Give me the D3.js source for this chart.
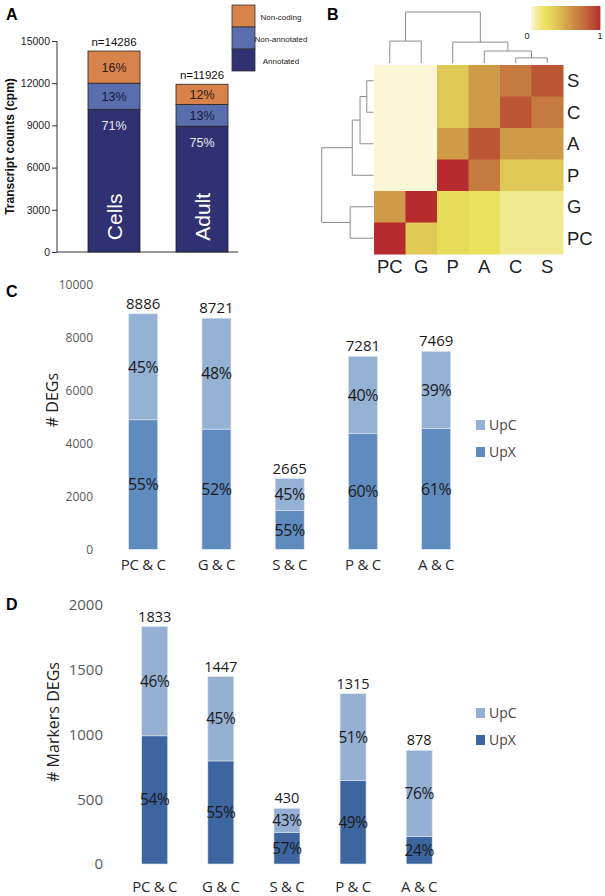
<!DOCTYPE html>
<html>
<head>
<meta charset="utf-8">
<script src="https://cdn.jsdelivr.net/npm/d3@7"></script>
<style>
  html, body { margin: 0; padding: 0; background: #fff; }
  svg { display: block; }
</style>
</head>
<body>
<script>
// ---------- Panel A data ----------
const catA = ["Cells", "Adult"];
const totalsA = [14286, 11926];
const pctAnnotated = [71, 75];
const pctNonAnnotated = [13, 13];
const pctNonCoding = [16, 12];
const ticksA = [0, 3000, 6000, 9000, 12000, 15000];
const legendA = ["Non-coding", "Non-annotated", "Annotated"];

// ---------- Panel B data ----------
const hmCols = ["PC", "G", "P", "A", "C", "S"];
const hmRows = ["S", "C", "A", "P", "G", "PC"];
const hmValues = [
  [0, 0, 0.35, 0.55, 0.70, 0.85],
  [0, 0, 0.35, 0.55, 0.85, 0.70],
  [0, 0, 0.55, 0.85, 0.55, 0.55],
  [0, 0, 1.00, 0.70, 0.35, 0.35],
  [0.55, 1.00, 0.25, 0.20, 0.10, 0.10],
  [1.00, 0.35, 0.25, 0.20, 0.10, 0.10]
];
const colTree = {h: 1, children: [
  {h: 0.43, children: [{name: "PC"}, {name: "G"}]},
  {h: 0.41, children: [{name: "P"}, {h: 0.235, children: [{name: "A"}, {h: 0.10, children: [{name: "C"}, {name: "S"}]}]}]}
]};
const rowTree = {h: 1, children: [
  {h: 0.41, children: [{h: 0.26, children: [{h: 0.13, children: [{name: "S"}, {name: "C"}]}, {name: "A"}]}, {name: "P"}]},
  {h: 0.45, children: [{name: "G"}, {name: "PC"}]}
]};

// ---------- Panel C data ----------
const catC = ["PC & C", "G & C", "S & C", "P & C", "A & C"];
const totalsC = [8886, 8721, 2665, 7281, 7469];
const pctUpXC = [55, 52, 55, 60, 61];
const pctUpCC = [45, 48, 45, 40, 39];
const ticksC = [0, 2000, 4000, 6000, 8000, 10000];

// ---------- Panel D data ----------
const catD = ["PC & C", "G & C", "S & C", "P & C", "A & C"];
const totalsD = [1833, 1447, 430, 1315, 878];
const pctUpXD = [54, 55, 57, 49, 24];
const pctUpCD = [46, 45, 43, 51, 76];
const ticksD = [0, 500, 1000, 1500, 2000];
const legendCD = ["UpC", "UpX"];

const W = 605, H = 896;
const svg = d3.select("body").append("svg").attr("width", W).attr("height", H);

const ARIAL = "'Liberation Sans', Arial, Helvetica, sans-serif";
const OPEN = "'Open Sans', 'Noto Sans', sans-serif";

// ================= Panel A =================
(function () {
  const g = svg.append("g");
  g.append("text").attr("x", 6).attr("y", 20).text("A")
    .attr("font-family", ARIAL).attr("font-weight", "bold").attr("font-size", 16);

  const y = d3.scaleLinear().domain([0, 15000]).range([252, 41]);
  const x = d3.scalePoint().domain(catA).range([114, 202]);
  const bw = 52;
  const colors = {nc: "#d9834c", na: "#5a6eae", an: "#2f3172"};

  const axis = g.append("g").attr("transform", "translate(57,0)")
    .call(d3.axisLeft(y).tickValues(ticksA).tickSize(5).tickPadding(2).tickFormat(d3.format("d")));
  axis.select(".domain").attr("stroke", "#333").attr("d", "M0,41V252");
  axis.selectAll(".tick line").attr("stroke", "#333");
  axis.selectAll(".tick text").attr("font-family", ARIAL).attr("font-size", 10.5).attr("fill", "#222");
  g.append("line").attr("x1", 57).attr("x2", 238).attr("y1", y(0)).attr("y2", y(0)).attr("stroke", "#333");

  g.append("text").attr("transform", `translate(14,${(41 + 252) / 2}) rotate(-90)`)
    .attr("text-anchor", "middle").attr("font-family", ARIAL).attr("font-weight", "bold")
    .attr("font-size", 12).attr("fill", "#111").text("Transcript counts (cpm)");

  catA.forEach((c, i) => {
    const t = totalsA[i];
    const a = t * pctAnnotated[i] / 100;
    const na = t * pctNonAnnotated[i] / 100;
    const segs = [
      {y0: 0, y1: a, col: colors.an, lab: pctAnnotated[i] + "%", tc: "#eceaf4"},
      {y0: a, y1: a + na, col: colors.na, lab: pctNonAnnotated[i] + "%", tc: "#161838"},
      {y0: a + na, y1: t, col: colors.nc, lab: pctNonCoding[i] + "%", tc: "#2a1a10"}
    ];
    const bx = x(c) - bw / 2;
    segs.forEach((s, k) => {
      g.append("rect").attr("x", bx).attr("width", bw)
        .attr("y", y(s.y1)).attr("height", y(s.y0) - y(s.y1))
        .attr("fill", s.col).attr("stroke", "#222").attr("stroke-width", 0.8);
      let ly = (y(s.y0) + y(s.y1)) / 2;
      if (k === 0) ly = y(s.y1) + (i === 0 ? 16 : 16);
      g.append("text").attr("x", bx + bw / 2).attr("y", ly).attr("dy", "0.36em")
        .attr("text-anchor", "middle").attr("font-family", ARIAL).attr("font-size", 12.5)
        .attr("fill", s.tc).text(s.lab);
    });
    g.append("text").attr("x", bx + bw / 2).attr("y", y(t) - 5)
      .attr("text-anchor", "middle").attr("font-family", ARIAL).attr("font-size", 11.5)
      .attr("fill", "#111").text("n=" + t);
    g.append("text").attr("transform", `translate(${bx + bw / 2},${y(2500)}) rotate(-90)`)
      .attr("text-anchor", "middle").attr("dy", "0.36em").attr("font-family", ARIAL)
      .attr("font-size", 21).attr("fill", "#fff").text(c);
  });

  // legend
  const ly = d3.scaleBand().domain(legendA).range([5, 71]);
  const lcol = [colors.nc, colors.na, colors.an];
  legendA.forEach((l, i) => {
    g.append("rect").attr("x", 232).attr("width", 23).attr("y", ly(l)).attr("height", ly.bandwidth())
      .attr("fill", lcol[i]).attr("stroke", "#333").attr("stroke-width", 0.8);
    g.append("text").attr("x", 281).attr("y", ly(l) + ly.bandwidth() / 2 + 1).attr("dy", "0.35em")
      .attr("text-anchor", "middle").attr("font-family", ARIAL).attr("font-size", 8)
      .attr("fill", "#222").text(l);
  });
})();

// ================= Panel B =================
(function () {
  const g = svg.append("g");
  g.append("text").attr("x", 327).attr("y", 20).text("B")
    .attr("font-family", ARIAL).attr("font-weight", "bold").attr("font-size", 16);

  const x = d3.scaleBand().domain(hmCols).range([374, 563]);
  const y = d3.scaleBand().domain(hmRows).range([65, 254]);
  const color = d3.scaleLinear()
    .domain([0, 0.1, 0.2, 0.3, 0.45, 0.6, 0.75, 0.9, 1])
    .range(["#fbf6d6", "#f1e98f", "#e9e25a", "#e5d35a", "#d7b24e", "#cc8f45", "#c3703c", "#b94a33", "#b72b2e"]);

  hmRows.forEach((r, i) => {
    hmCols.forEach((c, j) => {
      g.append("rect").attr("x", x(c)).attr("y", y(r))
        .attr("width", x.bandwidth() + 0.5).attr("height", y.bandwidth() + 0.5)
        .attr("fill", color(hmValues[i][j]));
    });
  });
  hmCols.forEach(c => {
    g.append("text").attr("x", x(c) + x.bandwidth() / 2).attr("y", 273)
      .attr("text-anchor", "middle").attr("font-family", ARIAL).attr("font-size", 18.5)
      .attr("fill", "#222").text(c);
  });
  hmRows.forEach(r => {
    g.append("text").attr("x", 567).attr("y", y(r) + y.bandwidth() / 2).attr("dy", "0.36em")
      .attr("font-family", ARIAL).attr("font-size", 18.5).attr("fill", "#222").text(r);
  });

  // dendrograms
  const lineCol = "#8c8c8c";
  const hy = d3.scaleLinear().domain([0, 1]).range([63, 12]);
  function layoutCol(node) {
    if (!node.children) { node.pos = x(node.name) + x.bandwidth() / 2; node.hh = 0; return; }
    node.children.forEach(layoutCol);
    node.pos = d3.mean(node.children, d => d.pos); node.hh = node.h;
  }
  function drawCol(node) {
    if (!node.children) return;
    const [a, b] = node.children;
    g.append("path").attr("fill", "none").attr("stroke", lineCol).attr("stroke-width", 1)
      .attr("d", `M${a.pos},${hy(a.hh)}V${hy(node.hh)}H${b.pos}V${hy(b.hh)}`);
    node.children.forEach(drawCol);
  }
  layoutCol(colTree); drawCol(colTree);

  const hx = d3.scaleLinear().domain([0, 1]).range([373.5, 321.7]);
  function layoutRow(node) {
    if (!node.children) { node.pos = y(node.name) + y.bandwidth() / 2; node.hh = 0; return; }
    node.children.forEach(layoutRow);
    node.pos = d3.mean(node.children, d => d.pos); node.hh = node.h;
  }
  function drawRow(node) {
    if (!node.children) return;
    const [a, b] = node.children;
    g.append("path").attr("fill", "none").attr("stroke", lineCol).attr("stroke-width", 1)
      .attr("d", `M${hx(a.hh)},${a.pos}H${hx(node.hh)}V${b.pos}H${hx(b.hh)}`);
    node.children.forEach(drawRow);
  }
  layoutRow(rowTree); drawRow(rowTree);

  // colour bar
  const cb = d3.scaleLinear().domain([0, 1]).range([531, 600]);
  const steps = d3.range(0, 1, 1 / 69);
  steps.forEach(s => {
    g.append("rect").attr("x", cb(s)).attr("y", 6).attr("width", 1.4).attr("height", 24)
      .attr("fill", color(s));
  });
  g.append("text").attr("x", 527).attr("y", 39).attr("text-anchor", "middle")
    .attr("font-family", ARIAL).attr("font-size", 9).attr("fill", "#222").text("0");
  g.append("text").attr("x", 600).attr("y", 39).attr("text-anchor", "middle")
    .attr("font-family", ARIAL).attr("font-size", 9).attr("fill", "#222").text("1");
})();

// ================= Panels C & D =================
function stackedPanel(o) {
  const g = svg.append("g");
  g.append("text").attr("x", 6).attr("y", o.letterY).text(o.letter)
    .attr("font-family", ARIAL).attr("font-weight", "bold").attr("font-size", 16);

  const y = d3.scaleLinear().domain([0, o.max]).range(o.yRange);
  const x = d3.scalePoint().domain(o.cats).range(o.xRange);

  const ax = g.append("g").attr("transform", `translate(${o.tickX},0)`)
    .call(d3.axisLeft(y).tickValues(o.ticks).tickSize(0).tickPadding(0).tickFormat(d3.format("d")));
  ax.select(".domain").remove();
  ax.selectAll(".tick text").attr("font-family", OPEN).attr("font-size", o.tickFs)
    .attr("fill", "#595959");

  g.append("text").attr("transform", `translate(${o.ylabX},${o.ylabY}) rotate(-90)`)
    .attr("text-anchor", "middle").attr("dy", "0.35em").attr("font-family", OPEN)
    .attr("font-size", 16).attr("fill", "#222").text(o.ylab);

  o.cats.forEach((c, i) => {
    const t = o.totals[i];
    const ux = t * o.pctX[i] / 100;
    const cx = x(c), bw = o.barW;
    const segs = [
      {y0: 0, y1: ux, col: o.colX, lab: o.pctX[i] + "%"},
      {y0: ux, y1: t, col: o.colC, lab: o.pctC[i] + "%"}
    ];
    segs.forEach(s => {
      g.append("rect").attr("x", cx - bw / 2).attr("width", bw)
        .attr("y", y(s.y1)).attr("height", y(s.y0) - y(s.y1))
        .attr("fill", s.col).attr("stroke", "#dde6f1").attr("stroke-width", 0.6);
    });
    segs.forEach(s => {
      g.append("text").attr("x", cx).attr("y", (y(s.y0) + y(s.y1)) / 2).attr("dy", "0.36em")
        .attr("text-anchor", "middle").attr("font-family", OPEN).attr("font-size", o.pctFs)
        .attr("letter-spacing", -0.4).attr("fill", "#1a1a1a").text(s.lab);
    });
    g.append("text").attr("x", cx).attr("y", y(t) - 5).attr("text-anchor", "middle")
      .attr("font-family", OPEN).attr("font-size", o.totFs).attr("fill", "#1a1a1a").text(t);
    g.append("text").attr("x", cx).attr("y", o.catY).attr("text-anchor", "middle")
      .attr("font-family", OPEN).attr("font-size", o.catFs).attr("letter-spacing", -0.3)
      .attr("fill", "#2a2a2a").text(c);
  });

  const ly = d3.scalePoint().domain(legendCD).range(o.legY);
  const lc = [o.colC, o.colX];
  legendCD.forEach((l, i) => {
    g.append("rect").attr("x", 476).attr("y", ly(l) - 5).attr("width", 9).attr("height", 10)
      .attr("fill", lc[i]);
    g.append("text").attr("x", 489).attr("y", ly(l)).attr("dy", "0.36em")
      .attr("font-family", OPEN).attr("font-size", 14).attr("fill", "#444").text(l);
  });
}

stackedPanel({
  letter: "C", letterY: 297,
  cats: catC, totals: totalsC, pctX: pctUpXC, pctC: pctUpCC, ticks: ticksC, max: 10000,
  yRange: [549.3, 284.3], xRange: [143.2, 436.2], barW: 29,
  tickX: 93, tickFs: 12, ylab: "# DEGs", ylabX: 52, ylabY: 400,
  colX: "#5f8bbf", colC: "#95b1d4",
  pctFs: 16, totFs: 15, catFs: 15, catY: 570, legY: [425, 452]
});

stackedPanel({
  letter: "D", letterY: 610,
  cats: catD, totals: totalsD, pctX: pctUpXD, pctC: pctUpCD, ticks: ticksD, max: 2000,
  yRange: [864, 605], xRange: [154.7, 419.2], barW: 26,
  tickX: 103, tickFs: 15, ylab: "# Markers DEGs", ylabX: 53, ylabY: 722,
  colX: "#3d65a0", colC: "#95b0d3",
  pctFs: 15.5, totFs: 14.5, catFs: 15, catY: 892, legY: [713, 740]
});
</script>
</body>
</html>
